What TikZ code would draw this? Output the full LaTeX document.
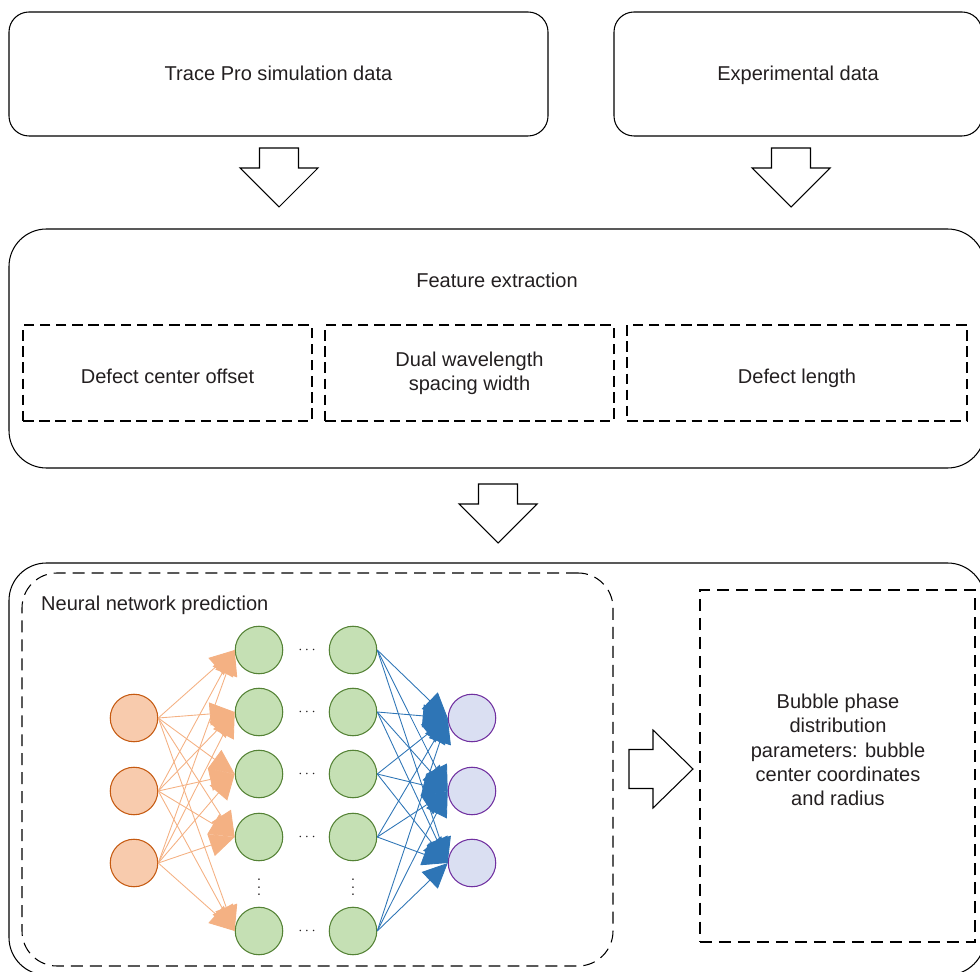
\documentclass[tikz,border=0pt]{standalone}
\usepackage{fontspec}
\setmainfont{Liberation Sans}
\usepackage{xcolor}
\usetikzlibrary{arrows.meta}

\definecolor{txtgray}{HTML}{231F20}
\definecolor{infill}{HTML}{F8CBAD}
\definecolor{indraw}{HTML}{C55A11}
\definecolor{hidfill}{HTML}{C5E0B4}
\definecolor{hiddraw}{HTML}{548235}
\definecolor{outfill}{HTML}{DADFF2}
\definecolor{outdraw}{HTML}{7030A0}
\definecolor{orangeln}{HTML}{F4B183}
\definecolor{blueln}{HTML}{2E75B6}

% hollow block arrows, given the top (or left) middle point
\newcommand{\blockdown}[1]{%
  \draw[hollow] (#1) ++(-0.39,0) -- ++(0.78,0) -- ++(0,-0.4) -- ++(0.39,0)
    -- ++(-0.78,-0.78) -- ++(-0.78,0.78) -- ++(0.39,0) -- cycle;}
\newcommand{\blockright}[1]{%
  \draw[hollow] (#1) ++(0,0.39) -- ++(0.48,0) -- ++(0,0.39) -- ++(0.8,-0.78)
    -- ++(-0.8,-0.78) -- ++(0,0.39) -- ++(-0.48,0) -- cycle;}

\begin{document}
\begin{tikzpicture}[
  font=\fontsize{11.4}{13.8}\selectfont, text=txtgray,
  databox/.style={draw, rounded corners=0.4cm, line width=0.6pt, inner sep=0pt,
                  text height=9pt, text depth=2pt},
  bigbox/.style={draw, rounded corners=0.75cm, line width=0.6pt, inner sep=0pt},
  featbox/.style={draw, dash pattern=on 6pt off 3.2pt, line width=0.6pt,
                  minimum height=1.92cm, inner sep=0pt, align=center},
  lowtext/.style={text height=11.4pt, text depth=0pt},
  longdash/.style={draw, dash pattern=on 6.8pt off 4pt, line width=0.6pt, inner sep=0pt},
  hollow/.style={draw, line width=0.6pt, fill=white},
  neuron/.style={circle, minimum size=0.95cm, inner sep=0pt, line width=0.6pt},
  innode/.style={neuron, draw=indraw, fill=infill},
  hidnode/.style={neuron, draw=hiddraw, fill=hidfill},
  outnode/.style={neuron, draw=outdraw, fill=outfill},
  dotsnode/.style={inner sep=0pt, font=\footnotesize},
  orangearrow/.style={-{Triangle[length=0.5cm, width=0.46cm]}, orangeln, line width=0.5pt},
  bluearrow/.style={-{Triangle[length=0.5cm, width=0.46cm]}, blueln, line width=0.5pt}
]
  \useasboundingbox (0,0) rectangle (19.6,-19.44);

  % data sources
  \node[databox, minimum width=10.78cm, minimum height=2.48cm] (sim) at (5.57,-1.48) {Trace Pro simulation data};
  \node[databox, minimum width=7.36cm, minimum height=2.48cm] (expt) at (15.96,-1.48) {Experimental data};

  \coordinate (a1) at (5.58,-2.96);
  \coordinate (a2) at (15.82,-2.96);
  \blockdown{a1}
  \blockdown{a2}

  % feature extraction
  \node[bigbox, minimum width=19.52cm, minimum height=4.78cm] (feat) at (9.94,-6.97) {};
  \node (feattitle) at (9.94,-5.6) {Feature extraction};
  \node[featbox, lowtext, minimum width=5.78cm] (f1) at (3.35,-7.46) {Defect center offset};
  \node[featbox, minimum width=5.78cm] (f2) at (9.39,-7.46) {Dual wavelength\\spacing width};
  \node[featbox, lowtext, minimum width=6.8cm]  (f3) at (15.94,-7.46) {Defect length};

  \coordinate (a3) at (9.96,-9.68);
  \blockdown{a3}

  % prediction
  \node[bigbox, minimum width=19.52cm, minimum height=8.24cm] (pred) at (9.94,-15.38) {};
  \node[longdash, rounded corners=0.7cm, minimum width=11.82cm, minimum height=7.86cm] (nnbox) at (6.35,-15.39) {};
  \node[anchor=west] (nntitle) at (0.7,-12.1) {Neural network prediction};

  \foreach \i/\y in {1/-14.36, 2/-15.82, 3/-17.26} {
    \node[innode] (in\i) at (2.68,\y) {};
    \node[outnode] (out\i) at (9.44,\y) {};
  }
  \foreach \i/\y in {1/-13.0, 2/-14.24, 3/-15.48, 4/-16.74, 5/-18.62} {
    \node[hidnode] (ha\i) at (5.18,\y) {};
    \node[hidnode] (hb\i) at (7.06,\y) {};
    \node[dotsnode] (cd\i) at (6.14,\y) {$\cdots$};
  }
  \node[dotsnode] (vda) at (5.18,-17.64) {$\vdots$};
  \node[dotsnode] (vdb) at (7.06,-17.64) {$\vdots$};

  \foreach \i in {1,2,3}
    \foreach \j in {1,...,5}
      \draw[orangearrow] (in\i.east) -- (ha\j.west);
  \foreach \i in {1,...,5}
    \foreach \j in {1,2,3}
      \draw[bluearrow] (hb\i.east) -- (out\j.west);

  \coordinate (a4) at (12.58,-15.38);
  \blockright{a4}

  \node[longdash, minimum width=5.5cm, minimum height=7.04cm] (result) at (16.75,-15.32) {};
  \node[align=center] (resulttxt) at (16.76,-15.0) {Bubble phase\\distribution\\parameters: bubble\\center coordinates\\and radius};
\end{tikzpicture}
\end{document}
